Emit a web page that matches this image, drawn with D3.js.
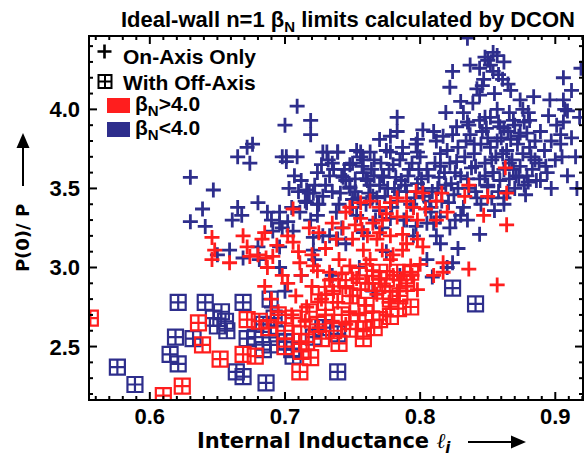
<!DOCTYPE html>
<html>
<head>
<meta charset="utf-8">
<script src="https://cdn.jsdelivr.net/npm/d3@7"></script>
<style>
  html, body { margin: 0; padding: 0; background: #fff; }
  svg { display: block; }
</style>
</head>
<body>
<svg id="chart" width="587" height="457"></svg>
<script>
// Axis limits (internal inductance li, peaking factor P(0)/<P>)
const xLimits = [0.555, 0.9205];
const yLimits = [2.162, 4.464];
const xTickLabels = ["0.6", "0.7", "0.8", "0.9"];
const yTickLabels = ["2.5", "3.0", "3.5", "4.0"];

// Equilibria stable to n=1 with on-axis current drive only, beta_N < 4.0  [li, P(0)/<P>]
const blueOnAxis = [
  [0.835,4.45],[0.854,4.36],[0.857,4.34],[0.850,4.31],[0.852,4.28],[0.837,4.28],[0.844,4.26],
  [0.824,4.24],[0.854,4.24],[0.847,4.19],[0.861,4.19],[0.906,4.20],[0.919,4.26],[0.822,4.14],
  [0.867,4.12],[0.844,4.09],[0.874,4.06],[0.884,4.08],[0.830,4.05],[0.896,4.06],[0.906,4.06],
  [0.907,4.00],[0.819,3.98],[0.832,3.98],[0.839,4.04],[0.857,4.00],[0.876,4.00],[0.881,3.93],
  [0.906,3.92],[0.904,3.84],[0.874,3.85],[0.867,3.81],[0.842,4.13],[0.846,4.15],[0.909,3.99],
  [0.858,4.22],[0.862,4.30],[0.848,4.33],[0.865,4.16],[0.855,4.10],
  [0.915,3.70],[0.918,3.95],[0.912,4.12],[0.916,3.50],
  [0.709,4.02],[0.700,3.90],[0.719,3.93],[0.719,3.84],[0.783,3.95],[0.783,3.86],
  [0.701,3.70],[0.709,3.70],[0.731,3.73],[0.739,3.73],[0.756,3.73],[0.770,3.81],[0.778,3.83],
  [0.798,3.81],[0.802,3.87],[0.810,3.86],[0.817,3.83],[0.827,3.89],[0.835,3.92],[0.844,3.93],
  [0.852,3.95],[0.859,3.89],[0.869,3.93],[0.879,3.85],
  [0.672,3.76],[0.676,3.78],[0.665,3.70],[0.674,3.66],[0.698,3.70],[0.701,3.67],[0.630,3.57],
  [0.647,3.49],[0.639,3.37],[0.630,3.29],[0.641,3.26],[0.665,3.38],[0.668,3.33],[0.661,3.30],
  [0.680,3.41],[0.687,3.35],[0.696,3.35],[0.690,3.30],[0.696,3.28],[0.702,3.29],[0.691,3.23],
  [0.698,3.25],[0.716,3.49],[0.721,3.47],[0.716,3.41],[0.724,3.40],[0.711,3.35],[0.719,3.30],
  [0.724,3.33],[0.706,3.23],[0.721,3.19],[0.733,3.20],[0.739,3.18],[0.728,3.73],[0.739,3.73],
  [0.735,3.66],[0.753,3.74],[0.750,3.66],[0.758,3.68],[0.763,3.73],[0.743,3.57],[0.748,3.51],
  [0.741,3.47],[0.750,3.43],[0.761,3.55],[0.773,3.57],[0.778,3.73],[0.787,3.76],[0.798,3.73],
  [0.659,3.11],[0.669,3.06],[0.650,3.08],[0.680,3.13],[0.681,3.05],[0.696,3.13],[0.696,3.00],
  [0.721,3.11],[0.873,3.57],[0.880,3.54],[0.854,3.60],[0.850,3.51],[0.866,3.66],[0.809,2.94],
  [0.824,3.03],[0.830,3.33],[0.844,3.21],[0.862,3.40],
  [0.745,3.55],[0.752,3.48],[0.758,3.60],[0.763,3.52],[0.768,3.44],[0.772,3.58],[0.776,3.50],
  [0.780,3.65],[0.783,3.42],[0.786,3.55],[0.790,3.48],[0.792,3.62],[0.795,3.38],[0.798,3.53],
  [0.800,3.70],[0.803,3.45],[0.806,3.58],[0.808,3.35],[0.811,3.66],[0.813,3.50],[0.816,3.42],
  [0.818,3.60],[0.820,3.74],[0.823,3.53],[0.825,3.46],[0.827,3.67],[0.830,3.58],[0.832,3.38],
  [0.834,3.80],[0.836,3.50],[0.838,3.63],[0.840,3.72],[0.842,3.44],[0.844,3.56],[0.846,3.86],
  [0.848,3.66],[0.850,3.52],[0.852,3.76],[0.854,3.60],[0.856,3.70],[0.858,3.48],[0.860,3.82],
  [0.862,3.62],[0.864,3.74],[0.866,3.56],[0.868,3.68],[0.870,3.90],[0.872,3.78],[0.874,3.64],
  [0.876,3.72],[0.879,3.58],[0.882,3.70],[0.885,3.80],[0.888,3.66],[0.892,3.74],[0.760,3.40],
  [0.770,3.36],[0.778,3.31],[0.788,3.30],[0.797,3.26],[0.805,3.28],[0.815,3.32],[0.826,3.30],
  [0.735,3.48],[0.740,3.40],[0.728,3.45],[0.722,3.52],[0.715,3.42],[0.710,3.48],[0.705,3.38],
  [0.748,3.65],[0.756,3.70],[0.766,3.68],[0.775,3.74],[0.787,3.72],[0.797,3.78],[0.812,3.80],
  [0.824,3.84],[0.836,3.90],[0.848,3.95],[0.858,3.92],[0.866,3.98],[0.845,3.40],[0.855,3.36],
  [0.862,3.44],[0.870,3.50],[0.878,3.46],[0.886,3.55],[0.894,3.60],[0.900,3.68],[0.897,3.50],
  [0.904,3.78],[0.712,3.55],[0.718,3.47],[0.724,3.60],[0.730,3.52],[0.736,3.62],[0.742,3.58],
  [0.748,3.50],[0.754,3.44],[0.760,3.56],[0.738,3.35],[0.750,3.38],[0.764,3.62],[0.770,3.52],
  [0.703,3.50],[0.707,3.58],[0.725,3.40],
  [0.805,3.62],[0.815,3.72],[0.822,3.66],[0.828,3.76],[0.833,3.70],[0.837,3.84],[0.841,3.64],
  [0.845,3.78],[0.849,3.88],[0.853,3.68],[0.857,3.80],[0.861,3.72],[0.865,3.86],[0.869,3.62],
  [0.873,3.83],[0.877,3.92],[0.881,3.76],[0.885,3.68],[0.889,3.86],[0.893,3.64],[0.897,3.80],
  [0.901,3.90],[0.905,3.70],[0.909,3.58],[0.912,3.82],[0.895,3.96],[0.880,3.98],[0.862,3.88],
  [0.850,3.82],[0.840,3.78],
  [0.762,3.47],[0.774,3.45],[0.782,3.57],[0.789,3.52],[0.796,3.44],[0.801,3.56],[0.809,3.48],
  [0.814,3.57],[0.821,3.41],[0.828,3.50],[0.835,3.56],[0.841,3.48],[0.848,3.58],[0.853,3.44],
  [0.859,3.55],[0.865,3.48],[0.871,3.58],[0.877,3.52],[0.883,3.62],[0.889,3.55],
  [0.744,3.62],[0.752,3.56],[0.757,3.64],[0.766,3.58],[0.771,3.66],[0.777,3.62],[0.781,3.50],
  [0.785,3.68],[0.791,3.58],[0.794,3.66],[0.799,3.62],[0.765,3.45],[0.779,3.38],[0.784,3.48],
  [0.793,3.40],[0.802,3.50],[0.807,3.42],[0.733,3.58],[0.727,3.65],[0.753,3.33],[0.767,3.30],
  [0.732,3.68],[0.815,3.64],[0.819,3.52],[0.826,3.60],
  [0.812,3.20],[0.822,3.25],[0.828,3.12],[0.835,3.30],[0.808,3.38],
  [0.722,3.05],[0.735,2.95],[0.745,3.15],[0.755,3.00],[0.765,2.85],[0.775,3.10],[0.785,2.95],
  [0.795,3.20],[0.805,3.05],[0.815,3.15],[0.728,3.20],[0.742,3.25],[0.758,3.22],[0.772,3.25],
  [0.790,3.30],[0.810,3.28],[0.820,3.00],[0.700,2.85],[0.712,2.95],[0.690,2.75]
];

// On-axis only, beta_N > 4.0
const redOnAxis = [
  [0.706,3.37],[0.646,3.19],[0.648,3.11],[0.646,3.05],[0.659,3.03],[0.669,3.20],[0.672,3.13],
  [0.674,3.07],[0.683,3.18],[0.680,3.08],[0.686,3.06],[0.691,3.07],[0.687,3.00],[0.706,3.16],
  [0.711,3.03],[0.721,3.01],[0.733,2.97],[0.743,3.25],[0.752,3.27],[0.748,3.38],[0.756,3.41],
  [0.763,3.42],[0.770,3.38],[0.778,3.41],[0.783,3.44],[0.790,3.42],[0.772,3.30],[0.783,3.32],
  [0.790,3.32],[0.798,3.30],[0.802,3.47],[0.804,3.37],[0.761,3.20],[0.768,3.18],[0.778,3.20],
  [0.787,3.21],[0.798,3.18],[0.758,3.11],[0.772,3.11],[0.787,3.11],[0.802,3.13],[0.748,3.01],
  [0.763,3.05],[0.778,3.05],[0.793,3.01],[0.756,3.31],[0.765,3.28],[0.863,3.63],[0.836,3.52],
  [0.816,3.47],[0.833,3.45],[0.850,3.45],[0.864,3.47],[0.836,2.99],[0.817,3.03],[0.817,2.97],
  [0.793,2.97],[0.857,2.89],[0.864,3.27],[0.847,3.33],
  [0.725,3.22],[0.735,3.28],[0.745,3.35],[0.757,3.24],[0.775,3.34],[0.795,3.38],[0.812,3.42],
  [0.820,3.35],[0.738,3.18],[0.718,3.25],[0.702,3.20],[0.694,3.14],[0.685,3.22],[0.797,3.48],
  [0.812,3.30],
  [0.702,2.90],[0.708,2.82],[0.712,2.95],[0.716,2.75],[0.720,2.88],[0.724,2.98],[0.727,2.80],
  [0.730,2.70],[0.733,2.92],[0.736,2.85],[0.739,2.78],[0.742,2.96],[0.745,2.88],[0.748,2.72],
  [0.750,2.82],[0.753,2.93],[0.756,2.86],[0.759,2.76],[0.762,2.90],[0.765,2.98],[0.768,2.83],
  [0.771,2.93],[0.774,2.88],[0.777,2.78],[0.780,2.95],[0.783,2.85],[0.786,2.92],[0.790,2.88],
  [0.794,2.95],[0.798,2.86],[0.705,2.70],[0.715,2.66],[0.725,2.62],[0.735,2.66],[0.745,2.64],
  [0.755,2.70],[0.765,2.72],[0.775,2.70],[0.690,2.80],[0.695,2.72],[0.698,2.95],[0.685,2.88],
  [0.720,3.08],[0.740,3.05],[0.760,3.02],[0.780,3.08],[0.800,3.02],[0.810,2.95],[0.790,3.15],
  [0.770,3.22],[0.750,3.18],[0.730,3.12],[0.710,3.10]
];

// With off-axis current drive, beta_N < 4.0
const blueOffAxis = [
  [0.621,2.78],[0.641,2.78],[0.653,2.72],[0.650,2.63],[0.619,2.56],[0.615,2.45],[0.621,2.39],
  [0.632,2.55],[0.576,2.37],[0.589,2.26],[0.669,2.78],[0.672,2.55],[0.684,2.48],[0.686,2.27],
  [0.664,2.34],[0.669,2.31],[0.656,2.66],[0.824,2.87],[0.841,2.77],[0.739,2.34],[0.705,2.48],
  [0.700,2.53],[0.701,2.53],[0.706,2.44],[0.728,2.62],[0.739,2.58],[0.721,2.56],[0.647,2.68],
  [0.657,2.60],[0.689,2.80],[0.692,2.68],[0.684,2.64],[0.694,2.58],[0.678,2.56],[0.689,2.51]
];

// With off-axis current drive, beta_N > 4.0
const redOffAxis = [
  [0.556,2.68],[0.636,2.65],[0.639,2.51],[0.652,2.42],[0.624,2.25],[0.610,2.19],[0.669,2.45],
  [0.678,2.44],[0.672,2.67],[0.681,2.66],[0.793,2.75],[0.793,2.97],[0.770,2.97],[0.783,2.97],
  [0.778,2.69],[0.711,2.34],[0.719,2.43],[0.716,2.53],[0.748,2.61],[0.758,2.61],[0.770,2.67],
  [0.700,2.60],[0.706,2.68],[0.712,2.58],[0.718,2.72],[0.724,2.64],[0.730,2.78],[0.736,2.60],
  [0.742,2.70],[0.748,2.82],[0.754,2.66],[0.760,2.76],[0.766,2.62],[0.772,2.85],[0.778,2.80],
  [0.784,2.74],[0.790,2.90],[0.745,2.92],[0.735,2.88],[0.725,2.83],[0.755,2.95],[0.765,2.90],
  [0.775,2.93],[0.785,2.82],[0.695,2.70],[0.688,2.62],[0.700,2.50],[0.712,2.47],[0.727,2.55],
  [0.740,2.52],[0.758,2.55]
];

const RED = "#ff1e1e";
const BLUE = "#2e2e8c";

const svg = d3.select("#chart");
const frame = { left: 89, right: 583, top: 36, bottom: 400 };

const x = d3.scaleLinear().domain(xLimits).range([frame.left, frame.right]);
const y = d3.scaleLinear().domain(yLimits).range([frame.bottom, frame.top]);

svg.append("rect").attr("width", 587).attr("height", 457).attr("fill", "#fff");

// clip markers to the plotting frame
svg.append("defs").append("clipPath").attr("id", "plotClip")
  .append("rect")
  .attr("x", frame.left).attr("y", frame.top)
  .attr("width", frame.right - frame.left).attr("height", frame.bottom - frame.top);

const plot = svg.append("g").attr("clip-path", "url(#plotClip)");

const plusPath = (s) => `M${-s},0H${s}M0,${-s}V${s}`;
const boxPath = (s) => `M${-s},${-s}H${s}V${s}H${-s}Z M${-s},0H${s} M0,${-s}V${s}`;

function drawPlus(data, color) {
  plot.append("g").selectAll("path").data(data).join("path")
    .attr("transform", d => `translate(${x(d[0])},${y(d[1])})`)
    .attr("d", plusPath(7.5))
    .attr("fill", "none").attr("stroke", color).attr("stroke-width", 2.8);
}
function drawBox(data, color) {
  plot.append("g").selectAll("path").data(data).join("path")
    .attr("transform", d => `translate(${x(d[0])},${y(d[1])})`)
    .attr("d", boxPath(7.5))
    .attr("fill", "none").attr("stroke", color).attr("stroke-width", 2.2);
}

drawBox(blueOffAxis, BLUE);
drawPlus(blueOnAxis, BLUE);
drawBox(redOffAxis, RED);
drawPlus(redOnAxis, RED);

// Axes: ticks on all four sides pointing inward, minor every 0.01 / 0.1
const xMinor = d3.range(56, 93).map(v => v / 100);
const yMinor = d3.range(22, 45).map(v => v / 10);
const xMajor = xTickLabels.map(Number);
const yMajor = yTickLabels.map(Number);

const axes = svg.append("g").attr("stroke", "#000").attr("stroke-width", 2);
function isMajorX(v) { return xMajor.some(m => Math.abs(m - v) < 1e-6); }
function isMajorY(v) { return yMajor.some(m => Math.abs(m - v) < 1e-6); }

xMinor.forEach(v => {
  const len = isMajorX(v) ? 8 : 4;
  const px = x(v);
  axes.append("line").attr("x1", px).attr("x2", px).attr("y1", frame.bottom).attr("y2", frame.bottom - len);
  axes.append("line").attr("x1", px).attr("x2", px).attr("y1", frame.top).attr("y2", frame.top + len);
});
yMinor.forEach(v => {
  const len = isMajorY(v) ? 8 : 4;
  const py = y(v);
  axes.append("line").attr("y1", py).attr("y2", py).attr("x1", frame.left).attr("x2", frame.left + len);
  axes.append("line").attr("y1", py).attr("y2", py).attr("x1", frame.right).attr("x2", frame.right - len);
});
svg.append("rect")
  .attr("x", frame.left).attr("y", frame.top)
  .attr("width", frame.right - frame.left).attr("height", frame.bottom - frame.top)
  .attr("fill", "none").attr("stroke", "#000").attr("stroke-width", 2);

const numFont = "'Liberation Sans', Arial, sans-serif";

// Tick labels
svg.append("g").selectAll("text").data(xTickLabels).join("text")
  .attr("x", d => x(+d)).attr("y", 424)
  .attr("text-anchor", "middle")
  .attr("font-family", numFont).attr("font-weight", "bold").attr("font-size", 22)
  .text(d => d);
svg.append("g").selectAll("text").data(yTickLabels).join("text")
  .attr("x", 80).attr("y", d => y(+d) + 8)
  .attr("text-anchor", "end")
  .attr("font-family", numFont).attr("font-weight", "bold").attr("font-size", 22)
  .text(d => d);

// Title
const title = svg.append("text")
  .attr("x", 348).attr("y", 27).attr("text-anchor", "middle")
  .attr("font-family", numFont).attr("font-weight", "bold").attr("font-size", 22);
title.append("tspan").text("Ideal-wall n=1 β");
title.append("tspan").attr("font-size", 15).attr("dy", 5).text("N");
title.append("tspan").attr("dy", -5).text(" limits calculated by DCON");

// X axis label with arrow
const labelFont = "'DejaVu Sans', sans-serif";
const xl = svg.append("text")
  .attr("x", 197).attr("y", 448)
  .attr("font-family", labelFont).attr("font-weight", "bold").attr("font-size", 21);
xl.append("tspan").text("Internal Inductance ");
xl.append("tspan").attr("font-style", "italic").attr("font-weight", "normal")
  .attr("font-family", "'DejaVu Serif', serif").text("ℓ");
xl.append("tspan").attr("font-size", 15).attr("dy", 5).attr("font-style", "italic").text("i");

function arrow(x1, y1, x2, y2) {
  const ang = Math.atan2(y2 - y1, x2 - x1);
  const hl = 15, hw = 6.5;
  const bx = x2 - hl * Math.cos(ang), by = y2 - hl * Math.sin(ang);
  svg.append("line").attr("x1", x1).attr("y1", y1).attr("x2", bx).attr("y2", by)
    .attr("stroke", "#000").attr("stroke-width", 2);
  const nx = -Math.sin(ang), ny = Math.cos(ang);
  svg.append("path")
    .attr("d", `M${x2},${y2}L${bx + nx * hw},${by + ny * hw}L${bx - nx * hw},${by - ny * hw}Z`)
    .attr("fill", "#000");
}
arrow(468, 442, 526, 442);

// Y axis label with arrow
svg.append("text")
  .attr("transform", "translate(29,238) rotate(-90)")
  .attr("text-anchor", "middle")
  .attr("font-family", labelFont).attr("font-weight", "bold").attr("font-size", 18)
  .text("P(0)/ P");
arrow(23, 186, 23, 133);

// Legend
const legend = svg.append("g");
legend.append("path").attr("transform", "translate(104.5,51.5)").attr("d", plusPath(7))
  .attr("stroke", "#000").attr("stroke-width", 2.6).attr("fill", "none");
legend.append("path").attr("transform", "translate(105,81.5)").attr("d", boxPath(6.5))
  .attr("stroke", "#000").attr("stroke-width", 2).attr("fill", "none");
legend.append("rect").attr("x", 107).attr("y", 98).attr("width", 23).attr("height", 15).attr("fill", RED);
legend.append("rect").attr("x", 107).attr("y", 122).attr("width", 23).attr("height", 15).attr("fill", BLUE);

const legText = (ty, parts) => {
  const t = legend.append("text").attr("x", 123).attr("y", ty)
    .attr("font-family", numFont).attr("font-weight", "bold").attr("font-size", 21);
  parts(t);
};
legText(64, t => t.text("On-Axis Only"));
legText(90, t => t.text("With Off-Axis"));
legText(111, t => {
  t.attr("x", 135);
  t.append("tspan").text("β");
  t.append("tspan").attr("font-size", 15).attr("dy", 5).text("N");
  t.append("tspan").attr("dy", -5).text(">4.0");
});
legText(135, t => {
  t.attr("x", 135);
  t.append("tspan").text("β");
  t.append("tspan").attr("font-size", 15).attr("dy", 5).text("N");
  t.append("tspan").attr("dy", -5).text("<4.0");
});
</script>
</body>
</html>
